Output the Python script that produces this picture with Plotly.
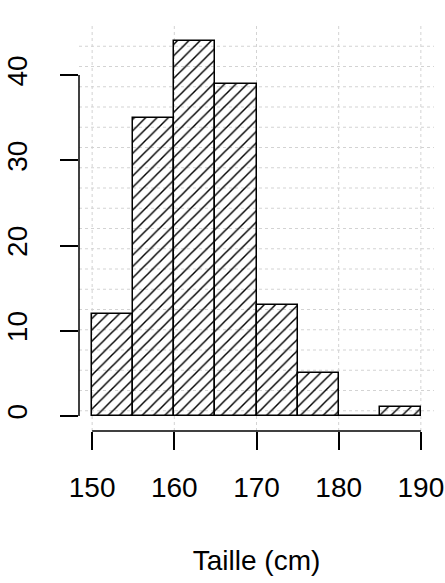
import plotly.graph_objects as go

# Histogram data (Taille en cm)
bin_edges = [150, 155, 160, 165, 170, 175, 180, 185, 190]
counts = [12, 35, 44, 39, 13, 5, 0, 1]
x_ticks = [150, 160, 170, 180, 190]
y_ticks = [0, 10, 20, 30, 40]
x_label = "Taille (cm)"

mids = [(a + b) / 2 for a, b in zip(bin_edges[:-1], bin_edges[1:])]
widths = [b - a for a, b in zip(bin_edges[:-1], bin_edges[1:])]

# R-style axis extension (4%)
xr = [bin_edges[0], bin_edges[-1]]
yr = [0, max(counts)]
dx = (xr[1] - xr[0]) * 0.04
dy = (yr[1] - yr[0]) * 0.04
x_range = [xr[0] - dx, xr[1] + dx]
y_range = [yr[0] - dy, yr[1] + dy]

font = "Liberation Sans, Arial, sans-serif"

fig = go.Figure()
fig.add_trace(go.Bar(
    x=mids, y=counts, width=widths,
    marker=dict(
        color="rgba(0,0,0,0)",
        line=dict(color="black", width=1.5),
        pattern=dict(shape="/", fgcolor="black", bgcolor="rgba(0,0,0,0)",
                     size=8, solidity=0.18, fgopacity=1),
    ),
    showlegend=False,
))

shapes = []
# horizontal grid: 20 divisions of the y range (interior lines)
ny = 20
for k in range(1, ny):
    yv = y_range[0] + k * (y_range[1] - y_range[0]) / ny
    shapes.append(dict(type="line", xref="paper", yref="y", x0=0, x1=1, y0=yv, y1=yv,
                       line=dict(color="#D3D3D3", width=1, dash="3px,3px"), layer="below"))
# vertical grid at x ticks
for xv in x_ticks:
    shapes.append(dict(type="line", xref="x", yref="paper", x0=xv, x1=xv, y0=0, y1=1,
                       line=dict(color="#D3D3D3", width=1, dash="3px,3px"), layer="below"))
# R-style axis lines spanning first to last tick
shapes.append(dict(type="line", xref="paper", yref="y", x0=0, x1=0,
                   y0=y_ticks[0], y1=y_ticks[-1], line=dict(color="black", width=1.5)))
shapes.append(dict(type="line", xref="x", yref="paper", x0=x_ticks[0], x1=x_ticks[-1],
                   y0=0, y1=0, line=dict(color="black", width=1.5)))

fig.update_layout(
    width=445, height=583,
    margin=dict(l=79, r=11, t=26, b=152, autoexpand=False),
    paper_bgcolor="white", plot_bgcolor="white",
    font=dict(family=font, size=28, color="black"),
    shapes=shapes,
    bargap=0,
)
fig.update_xaxes(
    range=x_range, tickvals=x_ticks, ticktext=[str(v) for v in x_ticks],
    ticks="outside", ticklen=18, tickwidth=1.5, tickcolor="black",
    showgrid=False, zeroline=False, showline=False,
    tickfont=dict(size=28), ticklabelstandoff=13,
    title=dict(text=x_label, font=dict(size=28), standoff=48),
    automargin=False,
)
fig.update_yaxes(
    range=y_range, tickvals=y_ticks, ticktext=[str(v) for v in y_ticks],
    ticks="outside", ticklen=18, tickwidth=1.5, tickcolor="black",
    showgrid=False, zeroline=False, showline=False,
    tickangle=-90, tickfont=dict(size=28), ticklabelstandoff=22,
    automargin=False,
)

fig.write_html("out.html",
               config={"displayModeBar": False},
               post_script="document.body.style.margin='0px';document.body.style.padding='0px';")
